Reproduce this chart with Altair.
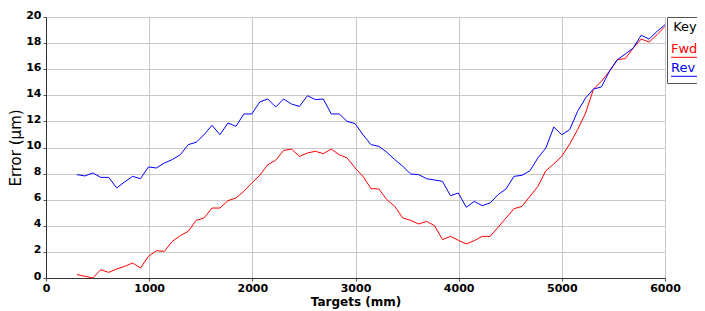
import altair as alt
import pandas as pd

targets = [300, 377, 454, 531, 608, 685, 762, 839, 916, 993,
           1070, 1147, 1224, 1302, 1379, 1456, 1532, 1609, 1686, 1764,
           1841, 1918, 1995, 2072, 2149, 2226, 2303, 2380, 2457, 2534,
           2611, 2688, 2765, 2842, 2919, 2996, 3073, 3150, 3227, 3304,
           3381, 3458, 3535, 3612, 3689, 3766, 3843, 3920, 3997, 4074,
           4151, 4228, 4305, 4382, 4459, 4536, 4614, 4691, 4768, 4845,
           4922, 4999, 5076, 5153, 5230, 5307, 5384, 5461, 5538, 5615,
           5692, 5769, 5846, 5923, 6000]

fwd = [0.26, 0.13, 0.0, 0.64, 0.43, 0.69, 0.89, 1.15, 0.77, 1.66,
       2.09, 2.04, 2.81, 3.24, 3.58, 4.42, 4.60, 5.36, 5.36, 5.93,
       6.13, 6.64, 7.28, 7.87, 8.68, 9.02, 9.78, 9.88, 9.32, 9.58,
       9.71, 9.53, 9.88, 9.45, 9.20, 8.43, 7.79, 6.85, 6.82, 6.00,
       5.49, 4.60, 4.42, 4.14, 4.34, 4.01, 2.94, 3.19, 2.89, 2.61,
       2.86, 3.19, 3.19, 3.88, 4.60, 5.31, 5.49, 6.26, 7.02, 8.22,
       8.74, 9.32, 10.27, 11.37, 12.64, 14.48, 15.07, 15.84, 16.73, 16.81,
       17.62, 18.31, 18.08, 18.65, 19.28]

rev = [7.92, 7.82, 8.05, 7.71, 7.71, 6.90, 7.36, 7.79, 7.61, 8.51,
       8.43, 8.81, 9.07, 9.45, 10.22, 10.40, 10.98, 11.70, 10.98, 11.88,
       11.62, 12.57, 12.57, 13.49, 13.72, 13.10, 13.72, 13.33, 13.15, 13.97,
       13.67, 13.72, 12.57, 12.57, 12.00, 11.83, 10.98, 10.22, 10.09, 9.63,
       9.07, 8.56, 7.97, 7.92, 7.61, 7.51, 7.41, 6.31, 6.51, 5.42,
       5.87, 5.54, 5.75, 6.39, 6.82, 7.79, 7.87, 8.22, 9.20, 9.96,
       11.57, 10.98, 11.37, 12.77, 13.79, 14.48, 14.64, 15.84, 16.73, 17.16,
       17.62, 18.60, 18.31, 18.90, 19.41]

series = ["Fwd", "Rev"]
colors = ["#ff0000", "#0000ff"]
x_ticks = [0, 1000, 2000, 3000, 4000, 5000, 6000]
y_ticks = [0, 2, 4, 6, 8, 10, 12, 14, 16, 18, 20]

df = pd.DataFrame({
    "target": targets * 2,
    "error": fwd + rev,
    "series": ["Fwd"] * len(fwd) + ["Rev"] * len(rev),
})

font = "DejaVu Sans"

chart = alt.Chart(df).mark_line(strokeWidth=1, interpolate="linear").encode(
    x=alt.X("target:Q",
            scale=alt.Scale(domain=[0, 6000], nice=False),
            axis=alt.Axis(values=x_ticks, title="Targets (mm)", format="d",
                          labelFlush=False, labelOverlap=False,
                          labelFont=font, labelFontSize=11, labelFontWeight="bold",
                          labelColor="#000000", tickSize=3, labelPadding=1,
                          tickColor="#555555", domainColor="#333333",
                          gridColor="#c8c8c8", gridWidth=1,
                          titleFont=font, titleFontSize=12, titleFontWeight="bold",
                          titleColor="#000000", titlePadding=3)),
    y=alt.Y("error:Q",
            scale=alt.Scale(domain=[0, 20], nice=False),
            axis=alt.Axis(values=y_ticks, title="Error (µm)", format="d",
                          labelFlush=False, labelOverlap=False, labelOffset=-2,
                          labelFont=font, labelFontSize=11, labelFontWeight="bold",
                          labelColor="#000000", tickSize=3, labelPadding=2,
                          tickColor="#555555", domainColor="#333333",
                          gridColor="#c8c8c8", gridWidth=1,
                          titleFont=font, titleFontSize=15, titleFontWeight="normal",
                          titleColor="#000000", titlePadding=2)),
    color=alt.Color("series:N",
                    scale=alt.Scale(domain=series, range=colors),
                    legend=alt.Legend(
                        title="Key", orient="none", legendX=621, legendY=0,
                        direction="vertical",
                        titleFont=font, titleFontSize=13, titleFontWeight="normal",
                        titleColor="#000000", titlePadding=8, titleAnchor="middle",
                        labelFont=font, labelFontSize=13,
                        labelColor=alt.ExprRef("datum.value == 'Fwd' ? '#ff0000' : '#0000ff'"),
                        symbolType="M -1.6 2.2 L 5 2.2", symbolSize=64,
                        symbolStrokeWidth=1, labelOffset=alt.ExprRef("-13"), rowPadding=1,
                        padding=4, strokeColor="#555555", fillColor="#ffffff",
                    )),
).properties(
    width=619,
    height=261,
    padding={"left": 38, "top": 9, "right": 32, "bottom": 33},
    autosize=alt.AutoSizeParams(type="none"),
).configure_view(
    stroke="#555555", strokeWidth=1, fill="#ffffff"
).configure(background="#ffffff")

chart.save("out.html", embed_options={"renderer": "svg", "actions": False})
